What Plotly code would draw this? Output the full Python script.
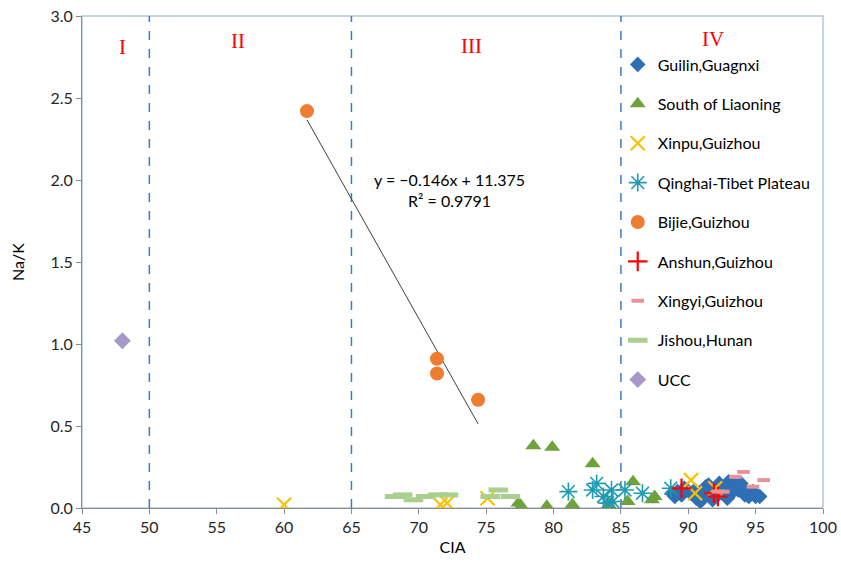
import plotly.graph_objects as go

# ---------------- data ----------------
guilin_x = [88.8, 89.2, 89.5, 89.9, 90.2, 90.6, 90.9, 91.1, 91.3, 91.6, 91.8, 92.0, 92.3, 92.5,
            92.8, 93.0, 93.2, 93.5, 93.7, 94.0, 94.2, 94.5, 94.8, 95.0, 95.3, 89.0, 89.7, 90.4,
            91.0, 91.5, 92.2, 92.9, 93.4, 93.9, 94.6]
guilin_y = [0.09, 0.10, 0.08, 0.11, 0.09, 0.06, 0.04, 0.10, 0.13, 0.09, 0.05, 0.12, 0.15, 0.10,
            0.13, 0.16, 0.09, 0.14, 0.11, 0.12, 0.08, 0.07, 0.10, 0.07, 0.07, 0.07, 0.12, 0.10,
            0.07, 0.14, 0.08, 0.06, 0.12, 0.15, 0.09]

liaoning_x = [78.5, 79.9, 82.9, 85.9, 77.4, 77.6, 79.5, 81.4, 84.1, 85.5, 87.3, 87.5]
liaoning_y = [0.38, 0.37, 0.27, 0.16, 0.03, 0.01, 0.01, 0.02, 0.02, 0.04, 0.05, 0.07]

xinpu_x = [60.0, 71.6, 72.1, 75.1, 90.2, 90.5, 92.0]
xinpu_y = [0.02, 0.02, 0.03, 0.06, 0.17, 0.09, 0.12]

qinghai_x = [81.1, 83.2, 82.9, 83.7, 84.3, 84.4, 85.3, 86.6, 84.0, 88.7]
qinghai_y = [0.10, 0.15, 0.11, 0.07, 0.11, 0.04, 0.11, 0.09, 0.03, 0.12]

bijie_x = [61.7, 71.35, 71.35, 74.4]
bijie_y = [2.42, 0.91, 0.82, 0.66]

anshun_x = [89.5, 91.9, 92.2]
anshun_y = [0.12, 0.09, 0.07]

xingyi_x = [94.1, 93.5, 95.6, 94.8, 92.2, 92.6]
xingyi_y = [0.22, 0.19, 0.17, 0.13, 0.10, 0.10]

jishou_x = [68.2, 68.8, 69.6, 70.5, 71.4, 72.2, 75.3, 75.9, 76.8]
jishou_y = [0.07, 0.08, 0.05, 0.07, 0.08, 0.08, 0.07, 0.11, 0.07]

ucc_x = [48.0]
ucc_y = [1.02]

trend_slope = -0.146
trend_intercept = 11.375
trend_r2 = 0.9791

zone_bounds = [50, 65, 85]
zone_labels = ["I", "II", "III", "IV"]
zone_label_x = [48.0, 56.6, 73.9, 91.8]
zone_label_y = [2.81, 2.85, 2.82, 2.86]

x_ticks = [45, 50, 55, 60, 65, 70, 75, 80, 85, 90, 95, 100]
y_ticks = [0.0, 0.5, 1.0, 1.5, 2.0, 2.5, 3.0]

# ---------------- figure ----------------
fig = go.Figure()

# trend line
tx = [min(bijie_x), max(bijie_x)]
ty = [trend_slope * v + trend_intercept for v in tx]
fig.add_trace(go.Scatter(x=tx, y=ty, mode="lines", line=dict(color="#404040", width=1),
                         showlegend=False, hoverinfo="skip"))

series = [
    ("Guilin,Guagnxi", guilin_x, guilin_y, dict(symbol="diamond", size=12, color="#2e6fb5")),
    ("South of Liaoning", liaoning_x, liaoning_y, dict(symbol="triangle-up", size=14, color="#6fa23c")),
    ("Xinpu,Guizhou", xinpu_x, xinpu_y, dict(symbol="x-thin-open", size=14, color="#ffc000",
                                              line=dict(color="#ffc000", width=2.2))),
    ("Qinghai-Tibet Plateau", qinghai_x, qinghai_y, dict(symbol="asterisk-open", size=15, color="#1e9bb3",
                                                      line=dict(color="#1e9bb3", width=1.6))),
    ("Bijie,Guizhou", bijie_x, bijie_y, dict(symbol="circle", size=14, color="#ed7d31")),
    ("Anshun,Guizhou", anshun_x, anshun_y, dict(symbol="cross-thin-open", size=14, color="#ff0000",
                                                line=dict(color="#ff0000", width=2.2))),
    ("Xingyi,Guizhou", xingyi_x, xingyi_y, dict(symbol="line-ew-open", size=9, color="#e8939a",
                                                line=dict(color="#e8939a", width=4))),
    ("Jishou,Hunan", jishou_x, jishou_y, dict(symbol="line-ew-open", size=14, color="#a9d08e",
                                              line=dict(color="#a9d08e", width=5))),
    ("UCC", ucc_x, ucc_y, dict(symbol="diamond", size=13, color="#a699c9")),
]
for i, (name, xs, ys, mk) in enumerate(series):
    fig.add_trace(go.Scatter(x=xs, y=ys, mode="markers", name=name, marker=mk,
                             legendgroup=f"g{i}"))

# zone dashed lines
for b in zone_bounds:
    fig.add_shape(type="line", x0=b, x1=b, y0=0, y1=3, xref="x", yref="y",
                  line=dict(color="#3a7dbf", width=1.5, dash="dash"), layer="below")

# plot area border
fig.add_shape(type="rect", x0=0, x1=1, y0=0, y1=1, xref="paper", yref="paper",
              line=dict(color="#b4c7dc", width=1.5), layer="below")

annotations = []
for lab, lx, ly in zip(zone_labels, zone_label_x, zone_label_y):
    annotations.append(dict(x=lx, y=ly, text=lab, showarrow=False, xref="x", yref="y",
                            font=dict(family="Liberation Serif", size=21, color="#ff0000")))
annotations.append(dict(x=72.3, y=1.94, xref="x", yref="y", showarrow=False,
                        text=f"y = \u2212{abs(trend_slope)}x + {trend_intercept}<br>R\u00b2 = {trend_r2}",
                        font=dict(family="Lato", size=16, color="#000000"), bgcolor="#ffffff",
                        align="center"))
fig.update_layout(annotations=annotations)

fig.update_layout(
    width=841, height=564,
    margin=dict(l=82, r=18, t=16, b=56, autoexpand=False),
    paper_bgcolor="#ffffff", plot_bgcolor="#ffffff",
    font=dict(family="Lato", size=16, color="#000000"),
    showlegend=True,
    legend=dict(x=0.723, y=0.936, xanchor="left", yanchor="top", tracegroupgap=15.6,
                bgcolor="rgba(0,0,0,0)", font=dict(size=16, color="#000000"),
                itemwidth=30),
    xaxis=dict(range=[45, 100], tickvals=x_ticks, ticktext=[str(v) for v in x_ticks],
               showgrid=False, zeroline=False, showline=True, linecolor="#8c8c8c", linewidth=1,
               ticks="outside", ticklen=5, tickcolor="#8c8c8c", automargin=False,
               tickfont=dict(size=16, color="#262626"),
               title=dict(text="CIA", font=dict(size=16), standoff=6)),
    yaxis=dict(range=[0, 3], tickvals=y_ticks, ticktext=[f"{v:.1f}" for v in y_ticks],
               showgrid=False, zeroline=False, showline=True, linecolor="#8c8c8c", linewidth=1,
               ticks="outside", ticklen=5, tickcolor="#8c8c8c", automargin=False,
               tickfont=dict(size=16, color="#262626"),
               title=dict(text="Na/K", font=dict(size=16), standoff=21)),
)

fig.write_html("out.html")
